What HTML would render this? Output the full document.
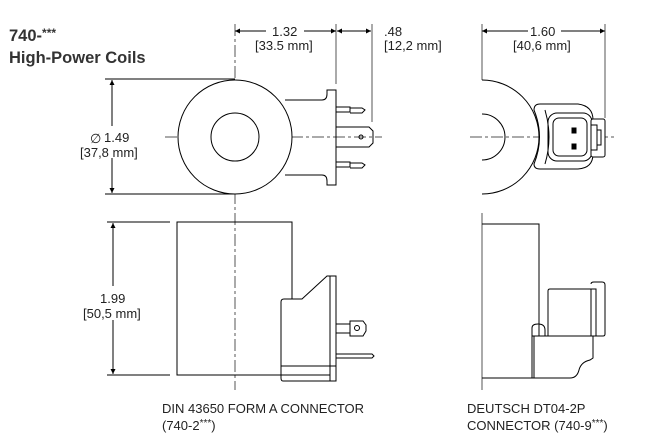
<!DOCTYPE html>
<html><head><meta charset="utf-8"><style>
html,body{margin:0;padding:0;background:#fff;width:670px;height:445px;overflow:hidden}
svg{display:block}
.t{font-family:"Liberation Sans",Arial,sans-serif;font-size:13px;fill:#222}
</style></head><body>
<svg width="670" height="445" viewBox="0 0 670 445" xmlns="http://www.w3.org/2000/svg">
<defs>
<marker id="a" viewBox="0 0 10 10" refX="10" refY="5" markerWidth="9" markerHeight="5" orient="auto-start-reverse" markerUnits="userSpaceOnUse"><path d="M0,0L10,5L0,10z" fill="#000"/></marker>
</defs>
<text x="9" y="41" style="font-family:'Liberation Sans',sans-serif;font-weight:bold;font-size:16.5px;fill:#333">740-<tspan font-size="12" dy="-4">***</tspan></text>
<text x="9" y="63" style="font-family:'Liberation Sans',sans-serif;font-weight:bold;font-size:16.5px;fill:#333">High-Power Coils</text>

<g stroke="#000" fill="none" stroke-width="1">
<line x1="235" y1="24" x2="235" y2="390" stroke-dasharray="12,3,3,3" stroke="#555"/>
<line x1="336" y1="24" x2="336" y2="84" stroke="#555"/>
<line x1="372" y1="24" x2="372" y2="122" stroke="#555"/>
<line x1="482" y1="24" x2="482" y2="80" stroke="#555"/>
<line x1="605" y1="24" x2="605" y2="118" stroke="#555"/>
<line x1="235" y1="31" x2="266" y2="31" marker-start="url(#a)"/>
<line x1="304" y1="31" x2="336" y2="31" marker-end="url(#a)"/>
<line x1="337" y1="31" x2="371" y2="31" marker-start="url(#a)" marker-end="url(#a)"/>
<line x1="482" y1="31" x2="528" y2="31" marker-start="url(#a)"/>
<line x1="561" y1="31" x2="605" y2="31" marker-end="url(#a)"/>
<line x1="105" y1="79" x2="235" y2="79"/>
<line x1="105" y1="194" x2="235" y2="194"/>
<line x1="112" y1="80" x2="112" y2="126" marker-start="url(#a)"/>
<line x1="112" y1="158" x2="112" y2="193" marker-end="url(#a)"/>
<line x1="107" y1="222" x2="170" y2="222"/>
<line x1="107" y1="375" x2="170" y2="375"/>
<line x1="113" y1="223" x2="113" y2="286" marker-start="url(#a)"/>
<line x1="113" y1="320" x2="113" y2="374" marker-end="url(#a)"/>
<line x1="165" y1="137" x2="382" y2="137" stroke-dasharray="12,3,3,3" stroke="#555"/>
<line x1="470" y1="137" x2="615" y2="137" stroke-dasharray="12,3,3,3" stroke="#555"/>
<line x1="482" y1="213" x2="482" y2="390" stroke="#555"/>

<path d="M285,100 L322,100 Q327,100 327,94 L327,90 L336,90 L336,185 L327,185 L327,181 Q327,175 322,175 L285,175"/>
<circle cx="235" cy="137" r="57" fill="#fff"/>
<circle cx="235" cy="137" r="24"/>
<path d="M336,107 H350 V112 H336 M350,108 H362 L365,110 L362,113 H350 M336,162 H350 V167 H336 M350,163 H362 L365,165 L362,168 H350"/>
<path d="M336,127 H369 L373,131 V143 L369,147 H336"/>
<circle cx="361" cy="137" r="2"/>

<path d="M482,80 A57,57 0 0 1 482,194"/>
<path d="M482,114 A23,23 0 0 1 482,160"/>
<path d="M540,104 H578 Q593,106 593,120 V154 Q593,168 578,169 H540 Q534,169 534,164 Q545,137 534,110 Q534,104 540,104Z" fill="#fff"/>
<path d="M545,110 Q553,137 545,164"/>
<rect x="548" y="113" width="44" height="48" rx="9"/>
<rect x="553" y="118" width="34" height="38" rx="6"/>
<rect x="591" y="119" width="14" height="38" rx="2" fill="#fff"/>
<path d="M591,125 H597 V150 H591 M597,130 H601 V145 H597"/>
<rect x="572" y="128" width="4" height="5" fill="#000"/>
<rect x="572" y="144" width="4" height="5" fill="#000"/>

<rect x="177" y="222" width="115" height="153" fill="none"/>
<path d="M284,299 H302 L327,276 H336 V381 H283 Q281,381 281,378 V302 Q281,299 284,299Z" fill="#fff"/>
<line x1="330" y1="276" x2="330" y2="381"/>
<line x1="281" y1="366" x2="336" y2="366"/>
<line x1="281" y1="375" x2="330" y2="375"/>
<path d="M336,324 H350 M336,333 H350 M350,321 H363 L366,325 V331 L363,336 H350Z"/>
<circle cx="357" cy="328" r="2.5"/>
<path d="M336,354 H372 L374,356 L372,358 H336"/>

<path d="M482,224 H539 V324"/>
<path d="M482,378 H570 Q577,378 579,370 Q581,362 590,360 L593,358 V336 H532 V378"/>
<line x1="534" y1="336" x2="534" y2="378"/>
<path d="M532,336 V328 Q532,324 538,324 Q545,324 545,330 V336 M539,324 V336"/>
<path d="M548,336 V291 Q548,289 550,289 H591 V336"/>
<path d="M591,284 Q591,282 594,282 H602 Q605,282 605,285 V334 Q605,336 603,336 H591"/>
<path d="M591,289 H596 V336"/>
</g>

<text class="t" x="90" y="143">∅</text>
<text class="t" x="104" y="142">1.49</text>
<text class="t" x="80" y="157">[37,8 mm]</text>
<text class="t" x="272" y="36">1.32</text>
<text class="t" x="255" y="50">[33.5 mm]</text>
<text class="t" x="384" y="36">.48</text>
<text class="t" x="384" y="50">[12,2 mm]</text>
<text class="t" x="530" y="36">1.60</text>
<text class="t" x="513" y="50">[40,6 mm]</text>
<text class="t" x="100" y="303">1.99</text>
<text class="t" x="83" y="318">[50,5 mm]</text>
<text class="t" x="162" y="413">DIN 43650 FORM A CONNECTOR</text>
<text class="t" x="162" y="430">(740-2<tspan font-size="10" dy="-4">***</tspan><tspan dy="4">)</tspan></text>
<text class="t" x="467" y="413">DEUTSCH DT04-2P</text>
<text class="t" x="467" y="430">CONNECTOR (740-9<tspan font-size="10" dy="-4">***</tspan><tspan dy="4">)</tspan></text>
</svg>
</body></html>
